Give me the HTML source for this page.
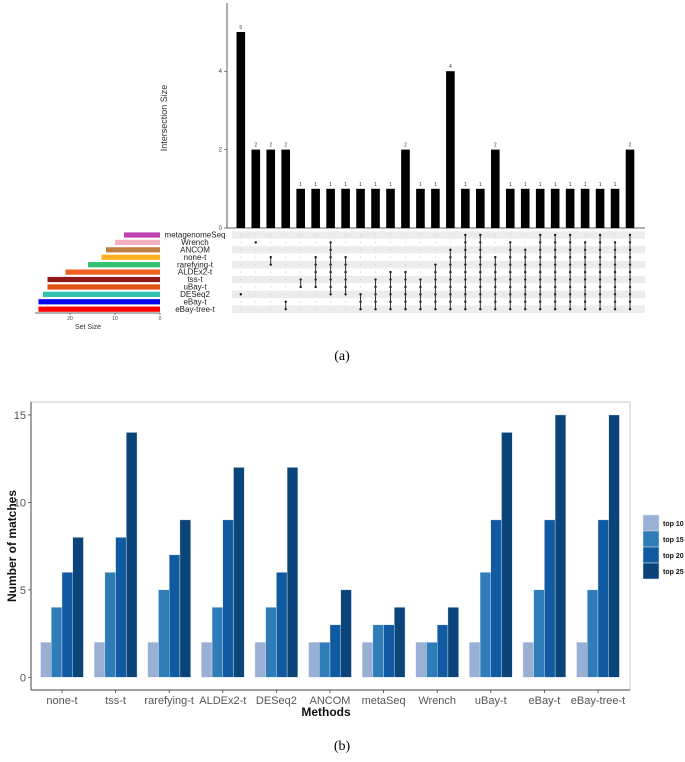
<!DOCTYPE html>
<html><head><meta charset="utf-8"><style>
html,body{margin:0;padding:0;background:#fff;}
svg{display:block;font-family:"Liberation Sans",sans-serif;}
</style></head><body>
<svg id="fig" width="685" height="762" viewBox="0 0 685 762">
<g id="upset"></g>
<text x="342" y="360" font-family="Liberation Serif,serif" font-size="14" text-anchor="middle">(a)</text>
<g id="bars"></g>
<text x="342" y="750" font-family="Liberation Serif,serif" font-size="14" text-anchor="middle">(b)</text>
</svg>
<script>
const setNames=["metagenomeSeq","Wrench","ANCOM","none-t","rarefying-t","ALDEx2-t","tss-t","uBay-t","DESeq2","eBay-t","eBay-tree-t"];
const setSizes=[8,10,12,13,16,21,25,25,26,27,27];
const setColors=["#c040b0","#f4b0c0","#c08040","#ffb020","#30c070","#f06020","#901818","#e05010","#30c0b0","#0000ee","#ff0000"];
const interValues=[5,2,2,2,1,1,1,1,1,1,1,2,1,1,4,1,1,2,1,1,1,1,1,1,1,1,2];
const interMin=[8,1,3,9,6,3,1,3,8,6,5,5,6,4,2,0,0,3,1,2,0,0,0,1,0,1,0];
const interMax=[8,1,4,10,7,7,8,8,10,10,10,10,10,10,10,10,10,10,10,10,10,10,10,10,10,10,10];
const upTicks=[0,2,4];
const ssTicks=[0,10,20];

const methods=["none-t","tss-t","rarefying-t","ALDEx2-t","DESeq2","ANCOM","metaSeq","Wrench","uBay-t","eBay-t","eBay-tree-t"];
const seriesNames=["top 10","top 15","top 20","top 25"];
const top10=[2,2,2,2,2,2,2,2,2,2,2];
const top15=[4,6,5,4,4,2,3,2,6,5,5];
const top20=[6,8,7,9,6,3,3,3,9,9,9];
const top25=[8,14,9,12,12,5,4,4,14,15,15];
const yTicks=[0,5,10,15];
const seriesColors=["#9aafd4","#2e7cb8","#0f5aa0","#0b4479"];

const NS="http://www.w3.org/2000/svg";
function mk(parent,tag,attrs,text){const e=document.createElementNS(NS,tag);for(const k in attrs)e.setAttribute(k,attrs[k]);if(text!==undefined)e.textContent=text;parent.appendChild(e);return e;}

// ---- UpSet ----
const U=document.getElementById('upset');
const colX=i=>240.8+i*14.97;
const upY=v=>228-v*39.2;
const rowY=r=>235+r*7.42;
const ssX=v=>160-v*4.5;
let e=mk(U,'line',{x1:227,y1:3,x2:227,y2:228,stroke:'#333','stroke-width':0.8});

e=mk(U,'line',{x1:227,y1:228,x2:645,y2:228,stroke:'#333','stroke-width':0.8});

upTicks.forEach(t=>{
 mk(U,'line',{x1:224,y1:upY(t),x2:227,y2:upY(t),stroke:'#333','stroke-width':0.6});
 e=mk(U,'text',{x:222,y:upY(t)+2,'font-size':6,'text-anchor':'end',fill:'#444'},t);
 
});
e=mk(U,'text',{x:0,y:0,'font-size':9,'text-anchor':'middle',fill:'#333',transform:'translate(167,118) rotate(-90)'},'Intersection Size');

setNames.forEach((n,r)=>{
 if(r%2===0){e=mk(U,'rect',{x:232,y:rowY(r)-3.7,width:413,height:7.4,fill:'#ececec'});
 }
});
interValues.forEach((v,i)=>{
 e=mk(U,'rect',{x:colX(i)-4.3,y:upY(v),width:8.6,height:228-upY(v),fill:'#000'});
 
 e=mk(U,'text',{x:colX(i),y:upY(v)-3,'font-size':5,'text-anchor':'middle',fill:'#333'},v);
 
 for(let r=0;r<setNames.length;r++){
  const on=r>=interMin[i]&&r<=interMax[i];
  e=mk(U,'circle',{cx:colX(i),cy:rowY(r),r:on?1.2:0.6,fill:on?'#111':'#ccc'});
  
 }
 if(interMax[i]>interMin[i]){
  e=mk(U,'line',{x1:colX(i),y1:rowY(interMin[i]),x2:colX(i),y2:rowY(interMax[i]),stroke:'#333','stroke-width':1});
  
 }
});
setNames.forEach((n,r)=>{
 e=mk(U,'rect',{x:ssX(setSizes[r]),y:rowY(r)-2.6,width:160-ssX(setSizes[r]),height:5.2,fill:setColors[r]});
 
 e=mk(U,'text',{x:195,y:rowY(r)+2.6,'font-size':8,'text-anchor':'middle',fill:'#222'},n);
 
});
e=mk(U,'line',{x1:35,y1:313,x2:160,y2:313,stroke:'#333','stroke-width':0.7});

ssTicks.forEach(t=>{
 mk(U,'line',{x1:ssX(t),y1:313,x2:ssX(t),y2:315,stroke:'#333','stroke-width':0.6});
 e=mk(U,'text',{x:ssX(t),y:320,'font-size':5,'text-anchor':'middle',fill:'#444'},t);
 
});
e=mk(U,'text',{x:88,y:329,'font-size':7,'text-anchor':'middle',fill:'#333'},'Set Size');


// ---- Grouped bars ----
const B=document.getElementById('bars');
const pL=31,pR=630,pT=402,pB=690;
const by=v=>677.3-v*17.49;
const band=53.6, gx=i=>62+i*band, bw=band*0.8/4;
e=mk(B,'rect',{x:pL,y:pT,width:pR-pL,height:pB-pT,fill:'#fff',stroke:'#bbb','stroke-width':0.8});

mk(B,'line',{x1:pL,y1:pT,x2:pL,y2:pB,stroke:'#444','stroke-width':1});
mk(B,'line',{x1:pL,y1:pB,x2:pR,y2:pB,stroke:'#444','stroke-width':1});
yTicks.forEach(t=>{
 mk(B,'line',{x1:pL-3,y1:by(t),x2:pL,y2:by(t),stroke:'#444','stroke-width':0.8});
 e=mk(B,'text',{x:pL-5,y:by(t)+4,'font-size':11,'text-anchor':'end',fill:'#555'},t);
 
});
const series=[top10,top15,top20,top25];
methods.forEach((m,i)=>{
 series.forEach((s,k)=>{
  const x=gx(i)-2*bw+k*bw;
  e=mk(B,'rect',{x:x,y:by(s[i]),width:bw,height:by(0)-by(s[i]),fill:seriesColors[k],stroke:'#dfe8f4','stroke-width':0.4});
  
 });
 mk(B,'line',{x1:gx(i),y1:pB,x2:gx(i),y2:pB+3,stroke:'#444','stroke-width':0.8});
 e=mk(B,'text',{x:gx(i),y:704,'font-size':11,'text-anchor':'middle',fill:'#555'},m);
 
});
e=mk(B,'text',{x:326,y:716,'font-size':12,'font-weight':'bold','text-anchor':'middle',fill:'#111'},'Methods');

e=mk(B,'text',{x:0,y:0,'font-size':12,'font-weight':'bold','text-anchor':'middle',fill:'#111',transform:'translate(16,546) rotate(-90)'},'Number of matches');

seriesNames.forEach((n,k)=>{
 e=mk(B,'rect',{x:643,y:515+k*16,width:16,height:16,fill:seriesColors[k],stroke:'#dfe8f4','stroke-width':0.5});
 
 e=mk(B,'text',{x:663,y:526+k*16,'font-size':7,'font-weight':'bold',fill:'#111'},n);
 
});
</script>
</body></html>
